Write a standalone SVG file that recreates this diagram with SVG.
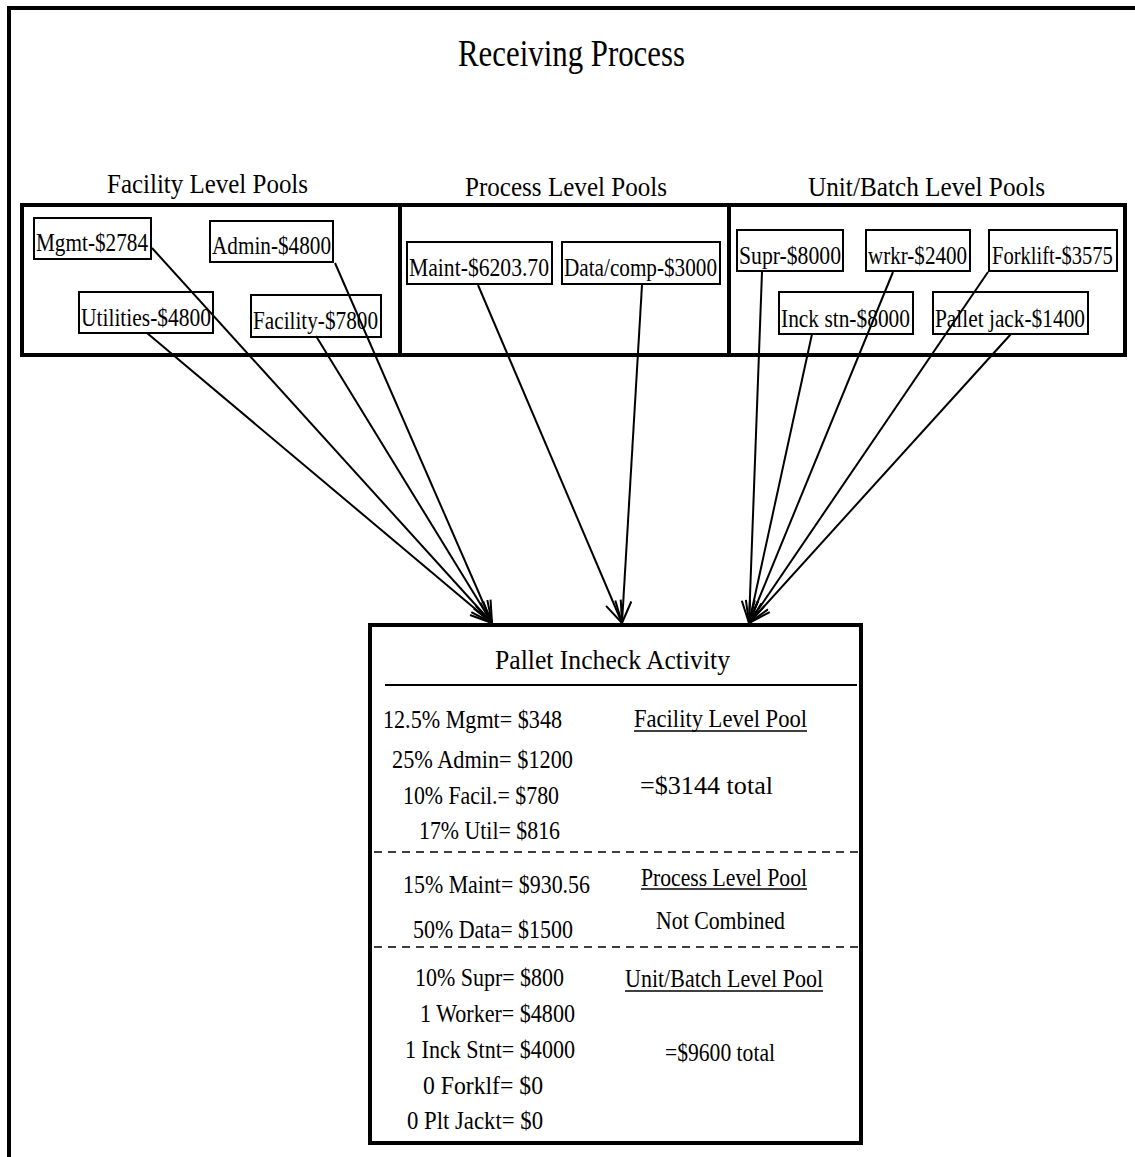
<svg xmlns="http://www.w3.org/2000/svg" width="1135" height="1157" viewBox="0 0 1135 1157">
<style>
.t{font-family:"Liberation Serif","Times New Roman",serif;fill:#000}
.box{fill:none;stroke:#000;stroke-width:2}
.conn{stroke:#000;stroke-width:2;fill:none;marker-end:url(#ah)}
.l{font-size:26px}
.b{font-size:25px}
.h{font-size:28px}
.dash{stroke:#000;stroke-width:1.5;stroke-dasharray:8 6}
</style>
<defs>
<marker id="ah" markerWidth="26" markerHeight="18" refX="23" refY="9" orient="auto" markerUnits="userSpaceOnUse">
<path d="M1,1 L23,9 L1,17" fill="none" stroke="#000" stroke-width="2"/>
</marker>
</defs>
<rect width="1135" height="1157" fill="#fff"/>
<path d="M9 1157 L9 8 L1135 8" fill="none" stroke="#000" stroke-width="4"/>
<text class="t" x="458" y="66" font-size="38" textLength="227" lengthAdjust="spacingAndGlyphs">Receiving Process</text>

<g id="pools">
<rect x="22" y="205" width="1103" height="150" fill="none" stroke="#000" stroke-width="4"/>
<line x1="400" y1="205" x2="400" y2="355" stroke="#000" stroke-width="4"/>
<line x1="729" y1="205" x2="729" y2="355" stroke="#000" stroke-width="4"/>
<text class="t h" x="107" y="193" textLength="201" lengthAdjust="spacingAndGlyphs">Facility Level Pools</text>
<text class="t h" x="465" y="196" textLength="202" lengthAdjust="spacingAndGlyphs">Process Level Pools</text>
<text class="t h" x="808" y="196" textLength="237" lengthAdjust="spacingAndGlyphs">Unit/Batch Level Pools</text>
</g>

<g id="connectors">
<line class="conn" x1="152" y1="248" x2="492" y2="623"/>
<line class="conn" x1="335" y1="263" x2="492" y2="623"/>
<line class="conn" x1="147" y1="333" x2="492" y2="623"/>
<line class="conn" x1="316" y1="336" x2="492" y2="623"/>
<line class="conn" x1="478" y1="285" x2="622" y2="623"/>
<line class="conn" x1="642" y1="285" x2="622" y2="623"/>
<line class="conn" x1="762" y1="272" x2="749" y2="623"/>
<line class="conn" x1="812" y1="334" x2="749" y2="623"/>
<line class="conn" x1="893" y1="272" x2="749" y2="623"/>
<line class="conn" x1="988" y1="272" x2="749" y2="623"/>
<line class="conn" x1="1011" y1="334" x2="749" y2="623"/>
</g>

<g id="mgmt"><rect class="box" x="34" y="218" width="117" height="41"/><text class="t l" x="36" y="251" textLength="112" lengthAdjust="spacingAndGlyphs">Mgmt-$2784</text></g>
<g id="admin"><rect class="box" x="210" y="221" width="123" height="41"/><text class="t l" x="212" y="254" textLength="119" lengthAdjust="spacingAndGlyphs">Admin-$4800</text></g>
<g id="utilities"><rect class="box" x="79" y="292" width="134" height="41"/><text class="t l" x="81" y="326" textLength="130" lengthAdjust="spacingAndGlyphs">Utilities-$4800</text></g>
<g id="facility"><rect class="box" x="251" y="295" width="130" height="42"/><text class="t l" x="253" y="329" textLength="125" lengthAdjust="spacingAndGlyphs">Facility-$7800</text></g>

<g id="maint"><rect class="box" x="407" y="242" width="145" height="42"/><text class="t l" x="409" y="276" textLength="140" lengthAdjust="spacingAndGlyphs">Maint-$6203.70</text></g>
<g id="data"><rect class="box" x="562" y="242" width="158" height="42"/><text class="t l" x="564" y="276" textLength="153" lengthAdjust="spacingAndGlyphs">Data/comp-$3000</text></g>

<g id="supr"><rect class="box" x="737" y="230" width="106" height="41"/><text class="t l" x="739" y="264" textLength="102" lengthAdjust="spacingAndGlyphs">Supr-$8000</text></g>
<g id="wrkr"><rect class="box" x="866" y="230" width="104" height="41"/><text class="t l" x="868" y="264" textLength="99" lengthAdjust="spacingAndGlyphs">wrkr-$2400</text></g>
<g id="forklift"><rect class="box" x="989" y="230" width="128" height="41"/><text class="t l" transform="translate(992 264) scale(0.79 1)">Forklift-$3575</text></g>
<g id="inckstn"><rect class="box" x="779" y="292" width="134" height="42"/><text class="t l" x="781" y="327" textLength="129" lengthAdjust="spacingAndGlyphs">Inck stn-$8000</text></g>
<g id="palletjack"><rect class="box" x="933" y="292" width="155" height="42"/><text class="t l" x="935" y="327" textLength="150" lengthAdjust="spacingAndGlyphs">Pallet jack-$1400</text></g>

<g id="activity">
<rect x="370" y="625" width="491" height="518" fill="none" stroke="#000" stroke-width="4"/>
<text class="t" x="495" y="669" font-size="28" textLength="235" lengthAdjust="spacingAndGlyphs">Pallet Incheck Activity</text>
<line x1="385" y1="685" x2="857" y2="685" stroke="#000" stroke-width="2"/>

<text class="t b" x="383" y="728" textLength="179" lengthAdjust="spacingAndGlyphs">12.5% Mgmt= $348</text>
<text class="t b" x="392" y="768" textLength="181" lengthAdjust="spacingAndGlyphs">25% Admin= $1200</text>
<text class="t b" x="403" y="804" textLength="156" lengthAdjust="spacingAndGlyphs">10% Facil.= $780</text>
<text class="t b" x="419" y="839" textLength="141" lengthAdjust="spacingAndGlyphs">17% Util= $816</text>
<text class="t b" x="634" y="727" textLength="173" lengthAdjust="spacingAndGlyphs">Facility Level Pool</text>
<line x1="634" y1="731" x2="807" y2="731" stroke="#000" stroke-width="1.5"/>
<text class="t b" x="640" y="794" textLength="133" lengthAdjust="spacingAndGlyphs">=$3144 total</text>
<line class="dash" x1="374" y1="852" x2="858" y2="852"/>

<text class="t b" x="403" y="893" textLength="187" lengthAdjust="spacingAndGlyphs">15% Maint= $930.56</text>
<text class="t b" x="413" y="938" textLength="160" lengthAdjust="spacingAndGlyphs">50% Data= $1500</text>
<text class="t b" x="641" y="886" textLength="166" lengthAdjust="spacingAndGlyphs">Process Level Pool</text>
<line x1="641" y1="889" x2="807" y2="889" stroke="#000" stroke-width="1.5"/>
<text class="t b" x="656" y="929" textLength="129" lengthAdjust="spacingAndGlyphs">Not Combined</text>
<line class="dash" x1="374" y1="947" x2="858" y2="947"/>

<text class="t b" x="415" y="986" textLength="149" lengthAdjust="spacingAndGlyphs">10% Supr= $800</text>
<text class="t b" x="420" y="1022" textLength="155" lengthAdjust="spacingAndGlyphs">1 Worker= $4800</text>
<text class="t b" x="405" y="1058" textLength="170" lengthAdjust="spacingAndGlyphs">1 Inck Stnt= $4000</text>
<text class="t b" x="423" y="1094" textLength="120" lengthAdjust="spacingAndGlyphs">0 Forklf= $0</text>
<text class="t b" x="407" y="1129" textLength="136" lengthAdjust="spacingAndGlyphs">0 Plt Jackt= $0</text>
<text class="t b" x="625" y="987" textLength="198" lengthAdjust="spacingAndGlyphs">Unit/Batch Level Pool</text>
<line x1="625" y1="991" x2="823" y2="991" stroke="#000" stroke-width="1.5"/>
<text class="t b" x="665" y="1061" textLength="110" lengthAdjust="spacingAndGlyphs">=$9600 total</text>
</g>
</svg>
